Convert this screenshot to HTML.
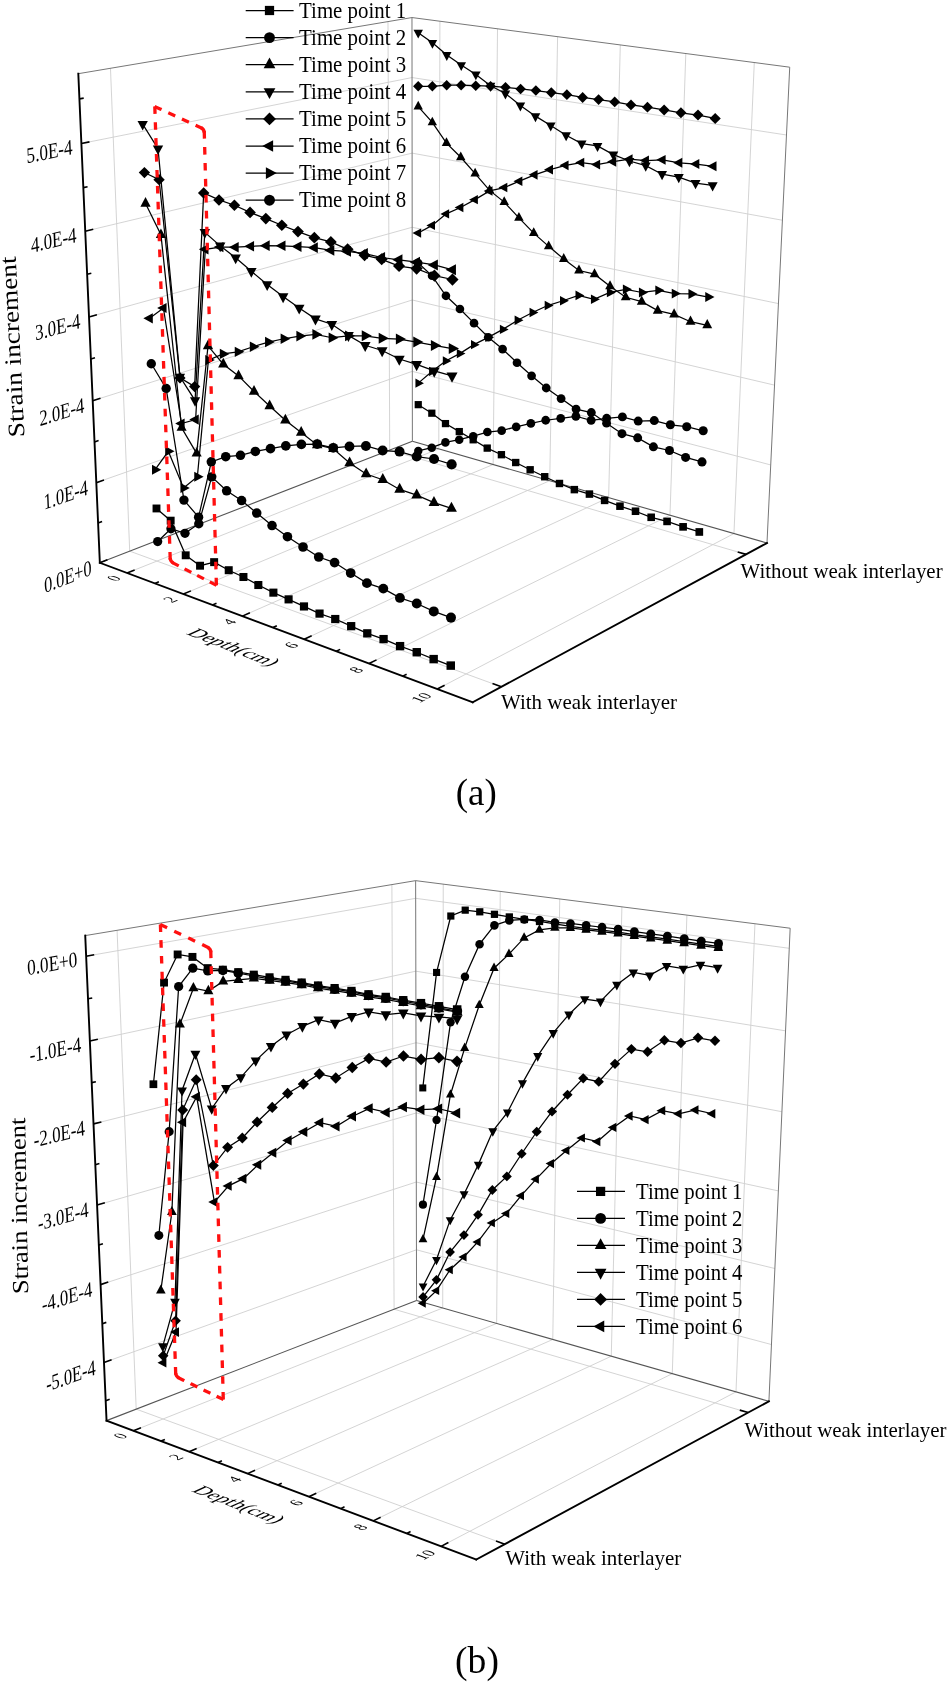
<!DOCTYPE html>
<html><head><meta charset="utf-8"><style>
    body{margin:0;background:#fff}
    svg{display:block;will-change:transform}
    .g{stroke:#cfcfcf;stroke-width:0.9;fill:none}
    .f{stroke:#777;stroke-width:1;fill:none}
    .f2{stroke:#555;stroke-width:1.1;fill:none}
    .ax{stroke:#000;stroke-width:1.9;fill:none;stroke-linecap:square}
    .tk{stroke:#000;stroke-width:1.6;fill:none}
    .sl{stroke:#000;stroke-width:1.25;fill:none}
    .mk{fill:#000}
    .red{stroke:#ff1010;stroke-width:3.3;fill:none;stroke-linecap:square}
    .t{font-family:"Liberation Serif",serif;fill:#000}
    </style></head>
<body><svg width="950" height="1685" viewBox="0 0 950 1685">
<rect width="950" height="1685" fill="#fff"/>
<line x1="96.31" y1="482.63" x2="412.31" y2="371.33" class="g"/>
<line x1="412.31" y1="371.33" x2="770.72" y2="464.93" class="g"/>
<line x1="92.7" y1="400.69" x2="412.25" y2="299.99" class="g"/>
<line x1="412.25" y1="299.99" x2="774.54" y2="385.14" class="g"/>
<line x1="89.01" y1="316.9" x2="412.18" y2="227.28" class="g"/>
<line x1="412.18" y1="227.28" x2="778.43" y2="303.59" class="g"/>
<line x1="85.24" y1="231.19" x2="412.11" y2="153.15" class="g"/>
<line x1="412.11" y1="153.15" x2="782.41" y2="220.24" class="g"/>
<line x1="81.38" y1="143.51" x2="412.04" y2="77.55" class="g"/>
<line x1="412.04" y1="77.55" x2="786.48" y2="135.01" class="g"/>
<line x1="129.71" y1="551.17" x2="110.47" y2="68.28" class="g"/>
<line x1="129.71" y1="551.17" x2="501.38" y2="686.81" class="g"/>
<line x1="389.71" y1="450.13" x2="387.99" y2="21.58" class="g"/>
<line x1="389.71" y1="450.13" x2="746.07" y2="554.36" class="g"/>
<line x1="438.78" y1="448.89" x2="439.91" y2="21.22" class="g"/>
<line x1="127.06" y1="572.97" x2="438.78" y2="448.89" class="g"/>
<line x1="493.16" y1="464.49" x2="497.53" y2="28.79" class="g"/>
<line x1="183.38" y1="594.05" x2="493.16" y2="464.49" class="g"/>
<line x1="549.72" y1="480.71" x2="557.6" y2="36.69" class="g"/>
<line x1="242.36" y1="616.12" x2="549.72" y2="480.71" class="g"/>
<line x1="608.61" y1="497.6" x2="620.3" y2="44.93" class="g"/>
<line x1="304.19" y1="639.26" x2="608.61" y2="497.6" class="g"/>
<line x1="669.97" y1="515.2" x2="685.8" y2="53.54" class="g"/>
<line x1="369.09" y1="663.55" x2="669.97" y2="515.2" class="g"/>
<line x1="733.96" y1="533.56" x2="754.29" y2="62.54" class="g"/>
<line x1="437.29" y1="689.07" x2="733.96" y2="533.56" class="g"/>
<line x1="78.31" y1="73.7" x2="411.98" y2="17.55" class="f"/>
<line x1="411.98" y1="17.55" x2="789.72" y2="67.2" class="f"/>
<line x1="789.72" y1="67.2" x2="766.99" y2="543.03" class="f"/>
<line x1="412.38" y1="441.32" x2="411.98" y2="17.55" class="f"/>
<line x1="99.84" y1="562.78" x2="412.38" y2="441.32" class="f2"/>
<line x1="412.38" y1="441.32" x2="766.99" y2="543.03" class="f2"/>
<line x1="99.84" y1="562.78" x2="78.31" y2="73.7" class="ax"/>
<line x1="99.84" y1="562.78" x2="472.7" y2="702.33" class="ax"/>
<line x1="472.7" y1="702.33" x2="766.99" y2="543.03" class="ax"/>
<line x1="99.84" y1="562.78" x2="107.44" y2="559.83" class="tk"/>
<line x1="98.08" y1="522.93" x2="102.1" y2="521.44" class="tk"/>
<line x1="96.31" y1="482.63" x2="104.01" y2="479.92" class="tk"/>
<line x1="94.51" y1="441.89" x2="98.58" y2="440.53" class="tk"/>
<line x1="92.7" y1="400.69" x2="100.5" y2="398.23" class="tk"/>
<line x1="90.87" y1="359.03" x2="94.98" y2="357.81" class="tk"/>
<line x1="89.01" y1="316.9" x2="96.91" y2="314.71" class="tk"/>
<line x1="87.14" y1="274.29" x2="91.31" y2="273.21" class="tk"/>
<line x1="85.24" y1="231.19" x2="93.24" y2="229.28" class="tk"/>
<line x1="83.32" y1="187.6" x2="87.55" y2="186.68" class="tk"/>
<line x1="81.38" y1="143.51" x2="89.49" y2="141.89" class="tk"/>
<line x1="79.41" y1="98.9" x2="83.7" y2="98.13" class="tk"/>
<line x1="127.06" y1="572.97" x2="134.65" y2="569.94" class="tk"/>
<line x1="154.9" y1="583.39" x2="158.88" y2="581.76" class="tk"/>
<line x1="183.38" y1="594.05" x2="190.95" y2="590.88" class="tk"/>
<line x1="212.52" y1="604.95" x2="216.49" y2="603.25" class="tk"/>
<line x1="242.36" y1="616.12" x2="249.9" y2="612.8" class="tk"/>
<line x1="272.91" y1="627.55" x2="276.85" y2="625.77" class="tk"/>
<line x1="304.19" y1="639.26" x2="311.68" y2="635.78" class="tk"/>
<line x1="336.24" y1="651.26" x2="340.16" y2="649.38" class="tk"/>
<line x1="369.09" y1="663.55" x2="376.52" y2="659.89" class="tk"/>
<line x1="402.76" y1="676.15" x2="406.64" y2="674.18" class="tk"/>
<line x1="437.29" y1="689.07" x2="444.64" y2="685.22" class="tk"/>
<line x1="501.38" y1="686.81" x2="492.49" y2="683.56" class="tk"/>
<line x1="746.07" y1="554.36" x2="737.69" y2="551.91" class="tk"/>
<g class="mk">
<path d="M418.21 86.26 432.37 86.26 446.68 85.19 461.14 85.21 475.77 85.63 490.55 86.23 505.5 87.28 520.6 88.94 535.87 90.51 551.29 92.61 566.89 94.68 582.64 97.49 598.59 99.54 614.7 101.9 630.98 104.9 647.46 107.13 664.1 109.94 680.94 112.76 697.99 115.08 715.19 118.45" class="sl"/>
<path d="M418.21 81.09L423.38 86.26L418.21 91.42L413.05 86.26Z"/>
<path d="M432.37 81.08L437.55 86.26L432.37 91.45L427.18 86.26Z"/>
<path d="M446.68 79.98L451.88 85.19L446.68 90.39L441.47 85.19Z"/>
<path d="M461.14 79.99L466.37 85.21L461.14 90.44L455.92 85.21Z"/>
<path d="M475.77 80.39L481.01 85.63L475.77 90.88L470.52 85.63Z"/>
<path d="M490.55 80.97L495.82 86.23L490.55 91.5L485.29 86.23Z"/>
<path d="M505.5 81.99L510.78 87.28L505.5 92.56L500.21 87.28Z"/>
<path d="M520.6 83.63L525.9 88.94L520.6 94.24L515.29 88.94Z"/>
<path d="M535.87 85.19L541.19 90.51L535.87 95.83L530.54 90.51Z"/>
<path d="M551.29 87.27L556.64 92.61L551.29 97.96L545.95 92.61Z"/>
<path d="M566.89 89.32L572.25 94.68L566.89 100.05L561.52 94.68Z"/>
<path d="M582.64 92.11L588.03 97.49L582.64 102.88L577.26 97.49Z"/>
<path d="M598.59 94.13L603.99 99.54L598.59 104.94L593.18 99.54Z"/>
<path d="M614.7 96.47L620.13 101.9L614.7 107.33L609.27 101.9Z"/>
<path d="M630.98 99.45L636.42 104.9L630.98 110.34L625.53 104.9Z"/>
<path d="M647.46 101.66L652.92 107.13L647.46 112.6L641.99 107.13Z"/>
<path d="M664.1 104.45L669.6 109.94L664.1 115.43L658.61 109.94Z"/>
<path d="M680.94 107.25L686.45 112.76L680.94 118.27L675.43 112.76Z"/>
<path d="M697.99 109.55L703.52 115.08L697.99 120.62L692.45 115.08Z"/>
<path d="M715.19 112.89L720.75 118.45L715.19 124L709.63 118.45Z"/>
<path d="M418.21 32.68 432.44 42.85 446.78 55.01 461.25 65.09 475.85 74.42 490.56 85.82 505.43 93.49 520.38 105.57 535.48 116.15 550.73 125.56 566.11 135.28 581.67 143.56 597.51 145.92 613.36 154.66 629.44 161.02 645.73 165.64 662.07 174.18 678.76 177.14 695.53 183.04 712.62 185.32" class="sl"/>
<path d="M418.21 38.53L422.92 29.75L413.49 29.75Z"/>
<path d="M432.44 48.72L437.17 39.92L427.71 39.92Z"/>
<path d="M446.78 60.89L451.53 52.07L442.04 52.07Z"/>
<path d="M461.25 70.99L466.01 62.14L456.49 62.14Z"/>
<path d="M475.85 80.34L480.62 71.46L471.08 71.46Z"/>
<path d="M490.56 91.75L495.34 82.85L485.77 82.85Z"/>
<path d="M505.43 99.44L510.23 90.51L500.63 90.51Z"/>
<path d="M520.38 111.54L525.2 102.58L515.57 102.58Z"/>
<path d="M535.48 122.14L540.31 113.15L530.65 113.15Z"/>
<path d="M550.73 131.56L555.57 122.55L545.89 122.55Z"/>
<path d="M566.11 141.31L570.97 132.27L561.25 132.27Z"/>
<path d="M581.67 149.61L586.54 140.54L576.79 140.54Z"/>
<path d="M597.51 151.99L602.4 142.88L592.61 142.88Z"/>
<path d="M613.36 160.75L618.27 151.62L608.45 151.62Z"/>
<path d="M629.44 167.13L634.36 157.97L624.51 157.97Z"/>
<path d="M645.73 171.77L650.67 162.57L640.78 162.57Z"/>
<path d="M662.07 180.33L667.03 171.1L657.1 171.1Z"/>
<path d="M678.76 183.32L683.74 174.05L673.77 174.05Z"/>
<path d="M695.53 189.24L700.53 179.94L690.53 179.94Z"/>
<path d="M712.62 191.55L717.64 182.21L707.6 182.21Z"/>
<path d="M418.22 106.65 432.3 122.45 446.47 143.16 460.75 157.24 475.13 173.69 489.59 190.4 504.22 202.1 518.91 217.88 533.72 233.1 548.67 246.35 563.75 259.05 578.98 270.5 594.53 274.19 610.03 286.29 625.7 297.3 641.7 301.63 657.74 310.6 674.1 314.39 690.52 321.7 707.25 325.27" class="sl"/>
<path d="M418.22 100.84L422.9 109.56L413.53 109.56Z"/>
<path d="M432.3 116.63L437 125.36L427.61 125.36Z"/>
<path d="M446.47 137.32L451.18 146.08L441.77 146.08Z"/>
<path d="M460.75 151.39L465.47 160.16L456.04 160.16Z"/>
<path d="M475.13 167.82L479.86 176.62L470.4 176.62Z"/>
<path d="M489.59 184.53L494.33 193.34L484.85 193.34Z"/>
<path d="M504.22 196.21L508.97 205.05L499.46 205.05Z"/>
<path d="M518.91 211.97L523.68 220.84L514.14 220.84Z"/>
<path d="M533.72 227.18L538.49 236.07L528.94 236.07Z"/>
<path d="M548.67 240.41L553.46 249.33L543.88 249.33Z"/>
<path d="M563.75 253.09L568.55 262.03L558.95 262.03Z"/>
<path d="M578.98 264.52L583.8 273.48L574.17 273.48Z"/>
<path d="M594.53 268.19L599.37 277.19L589.69 277.19Z"/>
<path d="M610.03 280.27L614.88 289.29L605.18 289.29Z"/>
<path d="M625.7 291.27L630.56 300.32L620.83 300.32Z"/>
<path d="M641.7 295.57L646.59 304.66L636.82 304.66Z"/>
<path d="M657.74 304.52L662.64 313.63L652.83 313.63Z"/>
<path d="M674.1 308.29L679.02 317.44L669.18 317.44Z"/>
<path d="M690.52 315.58L695.45 324.76L685.58 324.76Z"/>
<path d="M707.25 319.12L712.2 328.34L702.29 328.34Z"/>
<path d="M418.24 233.04 432.13 225.41 446.22 213.89 460.48 207.5 474.94 199.65 489.59 190.9 504.38 187.55 519.39 181.17 534.59 174.86 549.98 169.67 565.54 165.34 581.27 162.62 597.08 164.6 613.18 161.73 629.48 159.25 645.88 160.56 662.52 159.85 679.24 162.82 696.22 164.07 713.35 166.33" class="sl"/>
<path d="M412.49 233.04L421.11 228.41L421.11 237.68Z"/>
<path d="M426.36 225.41L435.02 220.76L435.02 230.06Z"/>
<path d="M440.42 213.89L449.12 209.21L449.12 218.56Z"/>
<path d="M454.66 207.5L463.39 202.8L463.39 212.19Z"/>
<path d="M469.09 199.65L477.86 194.93L477.86 204.36Z"/>
<path d="M483.71 190.9L492.53 186.16L492.53 195.64Z"/>
<path d="M498.48 187.55L507.33 182.79L507.33 192.31Z"/>
<path d="M513.46 181.17L522.36 176.39L522.36 185.95Z"/>
<path d="M528.64 174.86L537.57 170.06L537.57 179.67Z"/>
<path d="M543.99 169.67L552.97 164.85L552.97 174.5Z"/>
<path d="M559.53 165.34L568.54 160.5L568.54 170.19Z"/>
<path d="M575.23 162.62L584.28 157.75L584.28 167.48Z"/>
<path d="M591.02 164.6L600.1 159.71L600.1 169.49Z"/>
<path d="M607.1 161.73L616.23 156.83L616.23 166.64Z"/>
<path d="M623.37 159.25L632.54 154.32L632.54 164.18Z"/>
<path d="M639.74 160.56L648.94 155.62L648.94 165.51Z"/>
<path d="M656.36 159.85L665.6 154.88L665.6 164.82Z"/>
<path d="M673.06 162.82L682.33 157.84L682.33 167.81Z"/>
<path d="M690 164.07L699.32 159.06L699.32 169.08Z"/>
<path d="M707.11 166.33L716.47 161.3L716.47 171.35Z"/>
<path d="M418.26 383.14 431.89 371.41 445.7 360.95 459.69 353.62 473.88 344.64 488.24 337.36 502.8 329.4 517.57 320.32 532.52 312.49 547.66 305.53 562.95 300.75 578.46 295.38 593.95 299.27 609.88 292.46 625.92 289.27 641.97 292.49 658.38 290.37 674.8 293.57 691.52 293.96 708.33 297.05" class="sl"/>
<path d="M423.92 383.14L415.43 378.57L415.43 387.7Z"/>
<path d="M437.58 371.41L429.04 366.83L429.04 376Z"/>
<path d="M451.42 360.95L442.84 356.34L442.84 365.56Z"/>
<path d="M465.44 353.62L456.82 348.99L456.82 358.26Z"/>
<path d="M479.65 344.64L470.99 339.99L470.99 349.3Z"/>
<path d="M494.04 337.36L485.34 332.68L485.34 342.03Z"/>
<path d="M508.63 329.4L499.89 324.71L499.89 334.1Z"/>
<path d="M523.42 320.32L514.64 315.6L514.64 325.04Z"/>
<path d="M538.4 312.49L529.58 307.75L529.58 317.23Z"/>
<path d="M553.57 305.53L544.7 300.77L544.7 310.3Z"/>
<path d="M568.89 300.75L559.99 295.96L559.99 305.53Z"/>
<path d="M584.42 295.38L575.48 290.57L575.48 300.19Z"/>
<path d="M599.93 299.27L590.96 294.44L590.96 304.09Z"/>
<path d="M615.89 292.46L606.87 287.62L606.87 297.31Z"/>
<path d="M631.96 289.27L622.9 284.4L622.9 294.14Z"/>
<path d="M648.04 292.49L638.94 287.6L638.94 297.38Z"/>
<path d="M664.47 290.37L655.33 285.46L655.33 295.28Z"/>
<path d="M680.92 293.57L671.75 288.64L671.75 298.5Z"/>
<path d="M697.66 293.96L688.45 289.01L688.45 298.91Z"/>
<path d="M714.49 297.05L705.25 292.08L705.25 302.02Z"/>
<path d="M418.24 262.94 432.05 275.79 445.93 295.81 459.93 308.98 474.04 323.18 488.24 337.26 502.58 349.07 517.01 362.75 531.57 375.79 546.25 387.99 561.09 398.55 576.05 409.11 591.32 412.53 606.57 423.17 621.96 433.66 637.68 437.84 653.41 446.82 669.48 450.49 685.61 457.42 702 461.91" class="sl"/>
<circle cx="418.24" cy="262.94" r="4.3"/>
<circle cx="432.05" cy="275.79" r="4.31"/>
<circle cx="445.93" cy="295.81" r="4.32"/>
<circle cx="459.93" cy="308.98" r="4.33"/>
<circle cx="474.04" cy="323.18" r="4.34"/>
<circle cx="488.24" cy="337.26" r="4.35"/>
<circle cx="502.58" cy="349.07" r="4.36"/>
<circle cx="517.01" cy="362.75" r="4.37"/>
<circle cx="531.57" cy="375.79" r="4.38"/>
<circle cx="546.25" cy="387.99" r="4.4"/>
<circle cx="561.09" cy="398.55" r="4.41"/>
<circle cx="576.05" cy="409.11" r="4.42"/>
<circle cx="591.32" cy="412.53" r="4.44"/>
<circle cx="606.57" cy="423.17" r="4.45"/>
<circle cx="621.96" cy="433.66" r="4.47"/>
<circle cx="637.68" cy="437.84" r="4.48"/>
<circle cx="653.41" cy="446.82" r="4.5"/>
<circle cx="669.48" cy="450.49" r="4.52"/>
<circle cx="685.61" cy="457.42" r="4.53"/>
<circle cx="702" cy="461.91" r="4.55"/>
<path d="M418.27 450.96 431.76 447.69 445.42 442.38 459.23 439.68 473.21 436.22 487.37 432.05 501.67 430.67 516.17 426.85 530.85 423.44 545.7 420.25 560.71 418.32 575.9 416.27 591.14 420.28 606.69 418.3 622.42 416.88 638.17 421.07 654.24 420.59 670.35 424.76 686.72 426.7 703.19 430.8" class="sl"/>
<circle cx="418.27" cy="450.96" r="4.22"/>
<circle cx="431.76" cy="447.69" r="4.24"/>
<circle cx="445.42" cy="442.38" r="4.26"/>
<circle cx="459.23" cy="439.68" r="4.27"/>
<circle cx="473.21" cy="436.22" r="4.29"/>
<circle cx="487.37" cy="432.05" r="4.31"/>
<circle cx="501.67" cy="430.67" r="4.33"/>
<circle cx="516.17" cy="426.85" r="4.35"/>
<circle cx="530.85" cy="423.44" r="4.37"/>
<circle cx="545.7" cy="420.25" r="4.38"/>
<circle cx="560.71" cy="418.32" r="4.4"/>
<circle cx="575.9" cy="416.27" r="4.42"/>
<circle cx="591.14" cy="420.28" r="4.44"/>
<circle cx="606.69" cy="418.3" r="4.46"/>
<circle cx="622.42" cy="416.88" r="4.48"/>
<circle cx="638.17" cy="421.07" r="4.49"/>
<circle cx="654.24" cy="420.59" r="4.51"/>
<circle cx="670.35" cy="424.76" r="4.53"/>
<circle cx="686.72" cy="426.7" r="4.55"/>
<circle cx="703.19" cy="430.8" r="4.56"/>
<path d="M418.26 404.66 431.82 413.2 445.48 423.59 459.27 431.59 473.19 439.78 487.22 448.11 501.41 454.7 515.71 462.53 530.15 469.79 544.73 476.74 559.46 483.49 574.35 489.62 589.43 494.08 604.61 500.4 619.97 506.18 635.51 511.23 651.17 517.29 667.07 521.41 683.1 526.85 699.31 531.97" class="sl"/>
<rect x="414.66" y="401.06" width="7.2" height="7.2"/>
<rect x="428.2" y="409.59" width="7.22" height="7.22"/>
<rect x="441.86" y="419.97" width="7.24" height="7.24"/>
<rect x="455.64" y="427.96" width="7.27" height="7.27"/>
<rect x="469.54" y="436.14" width="7.29" height="7.29"/>
<rect x="483.57" y="444.45" width="7.31" height="7.31"/>
<rect x="497.74" y="451.03" width="7.34" height="7.34"/>
<rect x="512.03" y="458.85" width="7.36" height="7.36"/>
<rect x="526.46" y="466.09" width="7.38" height="7.38"/>
<rect x="541.03" y="473.03" width="7.41" height="7.41"/>
<rect x="555.75" y="479.77" width="7.43" height="7.43"/>
<rect x="570.62" y="485.89" width="7.46" height="7.46"/>
<rect x="585.68" y="490.34" width="7.49" height="7.49"/>
<rect x="600.86" y="496.65" width="7.51" height="7.51"/>
<rect x="616.2" y="502.41" width="7.54" height="7.54"/>
<rect x="631.72" y="507.45" width="7.57" height="7.57"/>
<rect x="647.38" y="513.5" width="7.59" height="7.59"/>
<rect x="663.26" y="517.59" width="7.62" height="7.62"/>
<rect x="679.27" y="523.03" width="7.65" height="7.65"/>
<rect x="695.47" y="528.13" width="7.68" height="7.68"/>
<path d="M156.49 508.47 170.67 520.66 185.7 555.3 200.05 565.72 214.13 562.15 228.72 570.21 243.43 576.99 258.33 585.02 273.39 592.65 288.59 599.37 303.98 606.44 319.53 613.59 335.25 619.03 351.17 626.16 367.28 633.33 383.57 639.1 400.07 646.13 416.76 652.23 433.65 659.1 450.76 665.59" class="sl"/>
<rect x="152.56" y="504.53" width="7.87" height="7.87"/>
<rect x="166.73" y="516.71" width="7.89" height="7.89"/>
<rect x="181.75" y="551.35" width="7.9" height="7.9"/>
<rect x="196.08" y="561.75" width="7.93" height="7.93"/>
<rect x="210.15" y="558.16" width="7.97" height="7.97"/>
<rect x="224.72" y="566.21" width="8" height="8"/>
<rect x="239.42" y="572.98" width="8.03" height="8.03"/>
<rect x="254.3" y="580.99" width="8.06" height="8.06"/>
<rect x="269.34" y="588.6" width="8.09" height="8.09"/>
<rect x="284.53" y="595.31" width="8.12" height="8.12"/>
<rect x="299.9" y="602.36" width="8.16" height="8.16"/>
<rect x="315.44" y="609.5" width="8.19" height="8.19"/>
<rect x="331.14" y="614.92" width="8.22" height="8.22"/>
<rect x="347.05" y="622.04" width="8.26" height="8.26"/>
<rect x="363.14" y="629.19" width="8.29" height="8.29"/>
<rect x="379.41" y="634.94" width="8.32" height="8.32"/>
<rect x="395.89" y="641.95" width="8.36" height="8.36"/>
<rect x="412.56" y="648.03" width="8.4" height="8.4"/>
<rect x="429.44" y="654.89" width="8.43" height="8.43"/>
<rect x="446.52" y="661.36" width="8.47" height="8.47"/>
<path d="M157.68 541.52 170.95 528.77 185 533.3 198.78 523.72 211.72 476.87 226.63 490.78 241.58 500.59 256.73 513.01 272.03 525.55 287.46 536.69 303.03 547.01 318.75 557.02 334.59 562.6 350.67 573.06 366.92 583.14 383.32 588.61 399.94 597.89 416.74 603.52 433.75 611.39 450.97 617.62" class="sl"/>
<circle cx="157.68" cy="541.52" r="4.62"/>
<circle cx="170.95" cy="528.77" r="4.64"/>
<circle cx="185" cy="533.3" r="4.66"/>
<circle cx="198.78" cy="523.72" r="4.69"/>
<circle cx="211.72" cy="476.87" r="4.73"/>
<circle cx="226.63" cy="490.78" r="4.74"/>
<circle cx="241.58" cy="500.59" r="4.76"/>
<circle cx="256.73" cy="513.01" r="4.78"/>
<circle cx="272.03" cy="525.55" r="4.79"/>
<circle cx="287.46" cy="536.69" r="4.81"/>
<circle cx="303.03" cy="547.01" r="4.83"/>
<circle cx="318.75" cy="557.02" r="4.85"/>
<circle cx="334.59" cy="562.6" r="4.87"/>
<circle cx="350.67" cy="573.06" r="4.88"/>
<circle cx="366.92" cy="583.14" r="4.9"/>
<circle cx="383.32" cy="588.61" r="4.92"/>
<circle cx="399.94" cy="597.89" r="4.94"/>
<circle cx="416.74" cy="603.52" r="4.97"/>
<circle cx="433.75" cy="611.39" r="4.99"/>
<circle cx="450.97" cy="617.62" r="5.01"/>
<path d="M151.29 363.8 166.17 388.5 183.93 500.08 198.58 517.16 211.3 461.86 225.73 456.71 240.48 455.3 255.36 451.46 270.48 448.66 285.81 445.89 301.38 444.42 317.19 444.05 333.25 447.83 349.47 446.45 365.92 445.95 382.63 450.54 399.54 451.6 416.68 456.55 434.05 458.99 451.64 464.44" class="sl"/>
<circle cx="151.29" cy="363.8" r="4.7"/>
<circle cx="166.17" cy="388.5" r="4.71"/>
<circle cx="183.93" cy="500.08" r="4.68"/>
<circle cx="198.58" cy="517.16" r="4.69"/>
<circle cx="211.3" cy="461.86" r="4.74"/>
<circle cx="225.73" cy="456.71" r="4.76"/>
<circle cx="240.48" cy="455.3" r="4.78"/>
<circle cx="255.36" cy="451.46" r="4.81"/>
<circle cx="270.48" cy="448.66" r="4.83"/>
<circle cx="285.81" cy="445.89" r="4.85"/>
<circle cx="301.38" cy="444.42" r="4.88"/>
<circle cx="317.19" cy="444.05" r="4.9"/>
<circle cx="333.25" cy="447.83" r="4.92"/>
<circle cx="349.47" cy="446.45" r="4.94"/>
<circle cx="365.92" cy="445.95" r="4.97"/>
<circle cx="382.63" cy="450.54" r="4.99"/>
<circle cx="399.54" cy="451.6" r="5.01"/>
<circle cx="416.68" cy="456.55" r="5.04"/>
<circle cx="434.05" cy="458.99" r="5.06"/>
<circle cx="451.64" cy="464.44" r="5.08"/>
<path d="M145.53 203.47 160.94 234.78 181.6 427.72 196.65 453.42 208.02 345.95 223.3 364.27 238.55 375.93 254.03 391.45 269.62 406.06 285.35 420.33 301.19 432.56 317.2 444.95 333.26 448.74 349.63 462.99 366.13 474.02 382.78 479.71 399.64 489.44 416.7 495.09 433.96 502.68 451.45 508.38" class="sl"/>
<path d="M145.53 197.12L150.65 206.65L140.41 206.65Z"/>
<path d="M160.94 228.41L166.07 237.96L155.8 237.96Z"/>
<path d="M181.6 421.45L186.66 430.86L176.54 430.86Z"/>
<path d="M196.65 447.13L201.72 456.57L191.58 456.57Z"/>
<path d="M208.02 339.57L213.17 349.14L202.87 349.14Z"/>
<path d="M223.3 357.87L228.47 367.47L218.14 367.47Z"/>
<path d="M238.55 369.51L243.73 379.14L233.37 379.14Z"/>
<path d="M254.03 385.01L259.22 394.67L248.83 394.67Z"/>
<path d="M269.62 399.6L274.83 409.3L264.41 409.3Z"/>
<path d="M285.35 413.85L290.58 423.57L280.12 423.57Z"/>
<path d="M301.19 426.05L306.44 435.81L295.95 435.81Z"/>
<path d="M317.2 438.42L322.47 448.21L311.93 448.21Z"/>
<path d="M333.26 442.18L338.55 452.02L327.97 452.02Z"/>
<path d="M349.63 456.41L354.94 466.28L344.32 466.28Z"/>
<path d="M366.13 467.41L371.46 477.32L360.8 477.32Z"/>
<path d="M382.78 473.07L388.13 483.02L377.43 483.02Z"/>
<path d="M399.64 482.78L405.02 492.77L394.27 492.77Z"/>
<path d="M416.7 488.4L422.09 498.44L411.3 498.44Z"/>
<path d="M433.96 495.96L439.38 506.04L428.55 506.04Z"/>
<path d="M451.45 501.63L456.89 511.75L446.01 511.75Z"/>
<path d="M155.1 469.64 168.31 451.32 183.54 487.95 197.36 476.72 208.42 360.06 223.03 353.91 237.96 351.87 253.03 346.74 268.33 342.03 283.87 338.74 299.65 336.11 315.67 334.41 331.97 337.74 348.42 335.81 365.13 335.76 382.07 338.29 399.24 339.06 416.64 342.06 434.28 345.44 452.15 348.54" class="sl"/>
<path d="M161.3 469.64L152 464.64L152 474.64Z"/>
<path d="M174.55 451.32L165.19 446.29L165.19 456.35Z"/>
<path d="M189.78 487.95L180.42 482.91L180.42 492.98Z"/>
<path d="M203.63 476.72L194.22 471.66L194.22 481.78Z"/>
<path d="M214.79 360.06L205.23 354.92L205.23 365.2Z"/>
<path d="M229.44 353.91L219.83 348.74L219.83 359.08Z"/>
<path d="M244.4 351.87L234.74 346.68L234.74 357.06Z"/>
<path d="M259.5 346.74L249.8 341.52L249.8 351.96Z"/>
<path d="M274.83 342.03L265.08 336.78L265.08 347.27Z"/>
<path d="M290.41 338.74L280.61 333.47L280.61 344.01Z"/>
<path d="M306.22 336.11L296.37 330.81L296.37 341.41Z"/>
<path d="M322.27 334.41L312.37 329.09L312.37 339.73Z"/>
<path d="M338.59 337.74L328.65 332.39L328.65 343.08Z"/>
<path d="M355.08 335.81L345.09 330.43L345.09 341.18Z"/>
<path d="M371.82 335.76L361.78 330.36L361.78 341.15Z"/>
<path d="M388.8 338.29L378.71 332.87L378.71 343.72Z"/>
<path d="M406 339.06L395.86 333.61L395.86 344.51Z"/>
<path d="M423.43 342.06L413.25 336.59L413.25 347.53Z"/>
<path d="M441.1 345.44L430.87 339.95L430.87 350.94Z"/>
<path d="M459 348.54L448.72 343.01L448.72 354.06Z"/>
<path d="M149.66 318.31 163.43 308.01 181.47 423.54 195.63 419.61 205.29 249.37 220.22 247.11 235.42 247.22 250.79 246.27 266.38 245.65 282.19 245.79 298.22 246.62 314.47 247.64 330.95 250.35 347.62 251.43 364.53 253.53 381.67 257.5 399.03 259.82 416.61 262.22 434.44 264.94 452.49 269.78" class="sl"/>
<path d="M143.37 318.31L152.8 313.24L152.8 323.38Z"/>
<path d="M157.11 308.01L166.59 302.91L166.59 313.11Z"/>
<path d="M175.19 423.54L184.61 418.48L184.61 428.61Z"/>
<path d="M189.32 419.61L198.78 414.52L198.78 424.7Z"/>
<path d="M198.85 249.37L208.51 244.17L208.51 254.56Z"/>
<path d="M213.75 247.11L223.46 241.89L223.46 252.33Z"/>
<path d="M228.92 247.22L238.67 241.98L238.67 252.46Z"/>
<path d="M244.26 246.27L254.06 241L254.06 251.53Z"/>
<path d="M259.82 245.65L269.66 240.36L269.66 250.95Z"/>
<path d="M275.6 245.79L285.49 240.47L285.49 251.1Z"/>
<path d="M291.6 246.62L301.53 241.28L301.53 251.96Z"/>
<path d="M307.81 247.64L317.79 242.27L317.79 253Z"/>
<path d="M324.26 250.35L334.29 244.96L334.29 255.74Z"/>
<path d="M340.91 251.43L350.98 246.01L350.98 256.84Z"/>
<path d="M357.79 253.53L367.9 248.09L367.9 258.97Z"/>
<path d="M374.9 257.5L385.06 252.04L385.06 262.97Z"/>
<path d="M392.22 259.82L402.43 254.33L402.43 265.31Z"/>
<path d="M409.78 262.22L420.03 256.7L420.03 267.73Z"/>
<path d="M427.57 264.94L437.87 259.4L437.87 270.48Z"/>
<path d="M445.59 269.78L455.94 264.21L455.94 275.34Z"/>
<path d="M142.68 124.13 158 148.66 179.97 376.88 195.05 400.44 204.81 232.32 220.19 245.86 235.68 257.82 251.35 271.25 267.16 284.47 283.11 296.58 299.2 307.98 315.45 318.81 331.81 324.25 348.42 335.4 365.19 345.27 382.13 350.51 399.29 359 416.65 364.42 434.23 370.94 452.03 375.81" class="sl"/>
<path d="M142.68 130.53L147.84 120.93L137.52 120.93Z"/>
<path d="M158 155.08L163.17 145.45L152.83 145.45Z"/>
<path d="M179.97 383.18L185.05 373.72L174.88 373.72Z"/>
<path d="M195.05 406.76L200.15 397.28L189.95 397.28Z"/>
<path d="M204.81 238.77L210.01 229.09L199.6 229.09Z"/>
<path d="M220.19 252.33L225.41 242.62L214.97 242.62Z"/>
<path d="M235.68 264.32L240.92 254.58L230.44 254.58Z"/>
<path d="M251.35 277.76L256.61 267.99L246.1 267.99Z"/>
<path d="M267.16 291.01L272.44 281.2L261.89 281.2Z"/>
<path d="M283.11 303.14L288.4 293.3L277.82 293.3Z"/>
<path d="M299.2 314.56L304.51 304.68L293.89 304.68Z"/>
<path d="M315.45 325.42L320.78 315.51L310.12 315.51Z"/>
<path d="M331.81 330.89L337.16 320.93L326.46 320.93Z"/>
<path d="M348.42 342.07L353.79 332.07L343.05 332.07Z"/>
<path d="M365.19 351.96L370.59 341.93L359.8 341.93Z"/>
<path d="M382.13 357.22L387.55 347.15L376.72 347.15Z"/>
<path d="M399.29 365.74L404.73 355.63L393.85 355.63Z"/>
<path d="M416.65 371.19L422.11 361.03L411.19 361.03Z"/>
<path d="M434.23 377.74L439.71 367.54L428.74 367.54Z"/>
<path d="M452.03 382.64L457.54 372.39L446.52 372.39Z"/>
<path d="M144.42 172.55 159.06 179.69 180 377.88 194.63 386.62 203.69 192.89 218.98 199.93 234.4 205.27 250.04 212.4 265.84 218.62 281.82 225.24 297.98 231.62 314.33 237.71 330.85 241.93 347.6 249.32 364.54 255.19 381.68 259.34 399.04 266.05 416.62 268.58 434.42 275.71 452.45 279.51" class="sl"/>
<path d="M144.42 166.9L150.07 172.55L144.42 178.21L138.77 172.55Z"/>
<path d="M159.06 174.02L164.73 179.69L159.06 185.37L153.38 179.69Z"/>
<path d="M180 372.29L185.59 377.88L180 383.48L174.4 377.88Z"/>
<path d="M194.63 381.01L200.25 386.62L194.63 392.24L189.02 386.62Z"/>
<path d="M203.69 187.15L209.43 192.89L203.69 198.64L197.95 192.89Z"/>
<path d="M218.98 194.16L224.75 199.93L218.98 205.69L213.22 199.93Z"/>
<path d="M234.4 199.48L240.19 205.27L234.4 211.06L228.61 205.27Z"/>
<path d="M250.04 206.59L255.85 212.4L250.04 218.21L244.23 212.4Z"/>
<path d="M265.84 212.79L271.67 218.62L265.84 224.46L260 218.62Z"/>
<path d="M281.82 219.38L287.68 225.24L281.82 231.1L275.96 225.24Z"/>
<path d="M297.98 225.74L303.86 231.62L297.98 237.5L292.1 231.62Z"/>
<path d="M314.33 231.8L320.24 237.71L314.33 243.62L308.42 237.71Z"/>
<path d="M330.85 236L336.78 241.93L330.85 247.87L324.91 241.93Z"/>
<path d="M347.6 243.37L353.56 249.32L347.6 255.28L341.65 249.32Z"/>
<path d="M364.54 249.21L370.52 255.19L364.54 261.17L358.56 255.19Z"/>
<path d="M381.68 253.33L387.69 259.34L381.68 265.35L375.67 259.34Z"/>
<path d="M399.04 260.02L405.08 266.05L399.04 272.09L393.01 266.05Z"/>
<path d="M416.62 262.52L422.68 268.58L416.62 274.64L410.55 268.58Z"/>
<path d="M434.42 269.62L440.5 275.71L434.42 281.79L428.33 275.71Z"/>
<path d="M452.45 273.4L458.57 279.51L452.45 285.63L446.33 279.51Z"/>
</g>
<path d="M156.16 107.13L201.02 127.74" class="red" stroke-dasharray="4.30 10.72"/>
<path d="M204.29 132.7L216.36 583.8" class="red" stroke-dasharray="4.30 11.66"/>
<path d="M215.07 584.61L173.41 563.11" class="red" stroke-dasharray="4.30 9.89"/>
<path d="M170.18 558L154.85 108" class="red" stroke-dasharray="4.30 11.63"/>
<path d="M201.02 127.74Q204.2 129.2 204.29 132.7" class="red" style="stroke-linecap:butt"/>
<path d="M173.41 563.11Q170.3 561.5 170.18 558" class="red" style="stroke-linecap:butt"/>
<g class="mk">
<line x1="245.7" y1="10.5" x2="293.6" y2="10.5" class="sl"/>
<rect x="264.88" y="5.88" width="9.24" height="9.24"/>
<line x1="245.7" y1="37.6" x2="293.6" y2="37.6" class="sl"/>
<circle cx="269.5" cy="37.6" r="5.44"/>
<line x1="245.7" y1="64.7" x2="293.6" y2="64.7" class="sl"/>
<path d="M269.5 57.45L275.35 68.32L263.65 68.32Z"/>
<line x1="245.7" y1="91.8" x2="293.6" y2="91.8" class="sl"/>
<path d="M269.5 99.05L275.35 88.18L263.65 88.18Z"/>
<line x1="245.7" y1="118.9" x2="293.6" y2="118.9" class="sl"/>
<path d="M269.5 112.47L275.93 118.9L269.5 125.33L263.07 118.9Z"/>
<line x1="245.7" y1="146" x2="293.6" y2="146" class="sl"/>
<path d="M262.25 146L273.12 140.15L273.12 151.85Z"/>
<line x1="245.7" y1="173.1" x2="293.6" y2="173.1" class="sl"/>
<path d="M276.75 173.1L265.88 167.25L265.88 178.95Z"/>
<line x1="245.7" y1="200.2" x2="293.6" y2="200.2" class="sl"/>
<circle cx="269.5" cy="200.2" r="5.44"/>
</g>
<text x="299.1" y="17.5" font-size="22.4" textLength="107" lengthAdjust="spacingAndGlyphs" class="t">Time point 1</text>
<text x="299.1" y="44.6" font-size="22.4" textLength="107" lengthAdjust="spacingAndGlyphs" class="t">Time point 2</text>
<text x="299.1" y="71.7" font-size="22.4" textLength="107" lengthAdjust="spacingAndGlyphs" class="t">Time point 3</text>
<text x="299.1" y="98.8" font-size="22.4" textLength="107" lengthAdjust="spacingAndGlyphs" class="t">Time point 4</text>
<text x="299.1" y="125.9" font-size="22.4" textLength="107" lengthAdjust="spacingAndGlyphs" class="t">Time point 5</text>
<text x="299.1" y="153" font-size="22.4" textLength="107" lengthAdjust="spacingAndGlyphs" class="t">Time point 6</text>
<text x="299.1" y="180.1" font-size="22.4" textLength="107" lengthAdjust="spacingAndGlyphs" class="t">Time point 7</text>
<text x="299.1" y="207.2" font-size="22.4" textLength="107" lengthAdjust="spacingAndGlyphs" class="t">Time point 8</text>
<text transform="matrix(0.8109 -0.3151 0.0496 1.0989 91.81 574.70)" font-size="20" text-anchor="end" class="t">0.0E+0</text>
<text transform="matrix(0.8206 -0.2890 0.0496 1.0989 88.18 494.29)" font-size="20" text-anchor="end" class="t">1.0E-4</text>
<text transform="matrix(0.8298 -0.2615 0.0496 1.0989 84.47 412.08)" font-size="20" text-anchor="end" class="t">2.0E-4</text>
<text transform="matrix(0.8384 -0.2325 0.0496 1.0989 80.68 328.01)" font-size="20" text-anchor="end" class="t">3.0E-4</text>
<text transform="matrix(0.8462 -0.2020 0.0496 1.0989 76.79 242.01)" font-size="20" text-anchor="end" class="t">4.0E-4</text>
<text transform="matrix(0.8532 -0.1702 0.0496 1.0989 72.82 154.02)" font-size="20" text-anchor="end" class="t">5.0E-4</text>
<text transform="translate(24.4 437) rotate(-92.75) scale(1.0 0.87)" font-size="27.1" textLength="181" lengthAdjust="spacingAndGlyphs" class="t">Strain increment</text>
<text x="501" y="709" font-size="21" textLength="176" lengthAdjust="spacingAndGlyphs" class="t">With weak interlayer</text>
<text x="740.6" y="578" font-size="21" textLength="202" lengthAdjust="spacingAndGlyphs" class="t">Without weak interlayer</text>
<text transform="matrix(0.8827 -0.3513 0.9356 0.3530 122.41 578.76)" font-size="16" text-anchor="end" class="t">0</text>
<text transform="matrix(0.8764 -0.3665 0.9356 0.3530 178.76 600.03)" font-size="16" text-anchor="end" class="t">2</text>
<text transform="matrix(0.8694 -0.3830 0.9356 0.3530 237.79 622.30)" font-size="16" text-anchor="end" class="t">4</text>
<text transform="matrix(0.8613 -0.4008 0.9356 0.3530 299.68 645.65)" font-size="16" text-anchor="end" class="t">6</text>
<text transform="matrix(0.8521 -0.4201 0.9356 0.3530 364.65 670.17)" font-size="16" text-anchor="end" class="t">8</text>
<text transform="matrix(0.8414 -0.4411 0.9356 0.3530 432.94 695.94)" font-size="16" text-anchor="end" class="t">10</text>
<text transform="matrix(0.9324 0.3615 -0.9107 0.4131 227.67 650.12)" font-size="21" text-anchor="middle" class="t">Depth(cm)</text>
<text x="455.8" y="805.2" font-size="38" textLength="41" lengthAdjust="spacingAndGlyphs" class="t">(a)</text>
<line x1="86.14" y1="956.21" x2="415.67" y2="898.34" class="g"/>
<line x1="415.67" y1="898.34" x2="789.26" y2="948.29" class="g"/>
<line x1="89.86" y1="1040.95" x2="415.83" y2="971.2" class="g"/>
<line x1="415.83" y1="971.2" x2="785.55" y2="1030.85" class="g"/>
<line x1="93.51" y1="1123.9" x2="415.99" y2="1042.74" class="g"/>
<line x1="415.99" y1="1042.74" x2="781.92" y2="1111.7" class="g"/>
<line x1="97.07" y1="1205.1" x2="416.15" y2="1113" class="g"/>
<line x1="416.15" y1="1113" x2="778.36" y2="1190.9" class="g"/>
<line x1="100.57" y1="1284.62" x2="416.31" y2="1182" class="g"/>
<line x1="416.31" y1="1182" x2="774.88" y2="1268.5" class="g"/>
<line x1="103.99" y1="1362.5" x2="416.46" y2="1249.79" class="g"/>
<line x1="416.46" y1="1249.79" x2="771.46" y2="1344.54" class="g"/>
<line x1="136.2" y1="1409.14" x2="117.09" y2="930.3" class="g"/>
<line x1="136.2" y1="1409.14" x2="504.83" y2="1544.15" class="g"/>
<line x1="394.1" y1="1309.22" x2="391.88" y2="884.6" class="g"/>
<line x1="394.1" y1="1309.22" x2="748.13" y2="1412.56" class="g"/>
<line x1="442.73" y1="1307.99" x2="443.24" y2="884.16" class="g"/>
<line x1="133.44" y1="1430.73" x2="442.73" y2="1307.99" class="g"/>
<line x1="496.64" y1="1323.42" x2="500.25" y2="891.4" class="g"/>
<line x1="189.14" y1="1451.67" x2="496.64" y2="1323.42" class="g"/>
<line x1="552.77" y1="1339.48" x2="559.74" y2="898.95" class="g"/>
<line x1="247.54" y1="1473.62" x2="552.77" y2="1339.48" class="g"/>
<line x1="611.27" y1="1356.22" x2="621.9" y2="906.85" class="g"/>
<line x1="308.83" y1="1496.65" x2="611.27" y2="1356.22" class="g"/>
<line x1="672.29" y1="1373.68" x2="686.9" y2="915.1" class="g"/>
<line x1="373.25" y1="1520.86" x2="672.29" y2="1373.68" class="g"/>
<line x1="735.99" y1="1391.9" x2="754.94" y2="923.74" class="g"/>
<line x1="441.04" y1="1546.34" x2="735.99" y2="1391.9" class="g"/>
<line x1="85.23" y1="935.6" x2="415.63" y2="880.65" class="f"/>
<line x1="415.63" y1="880.65" x2="790.16" y2="928.22" class="f"/>
<line x1="790.16" y1="928.22" x2="768.91" y2="1401.32" class="f"/>
<line x1="416.57" y1="1300.51" x2="415.63" y2="880.65" class="f"/>
<line x1="106.55" y1="1420.63" x2="416.57" y2="1300.51" class="f2"/>
<line x1="416.57" y1="1300.51" x2="768.91" y2="1401.32" class="f2"/>
<line x1="106.55" y1="1420.63" x2="85.23" y2="935.6" class="ax"/>
<line x1="106.55" y1="1420.63" x2="476.28" y2="1559.58" class="ax"/>
<line x1="476.28" y1="1559.58" x2="768.91" y2="1401.32" class="ax"/>
<line x1="86.14" y1="956.21" x2="94.23" y2="954.79" class="tk"/>
<line x1="88.01" y1="998.81" x2="92.23" y2="997.99" class="tk"/>
<line x1="89.86" y1="1040.95" x2="97.85" y2="1039.24" class="tk"/>
<line x1="91.69" y1="1082.65" x2="95.86" y2="1081.68" class="tk"/>
<line x1="93.51" y1="1123.9" x2="101.4" y2="1121.91" class="tk"/>
<line x1="95.3" y1="1164.71" x2="99.42" y2="1163.6" class="tk"/>
<line x1="97.07" y1="1205.1" x2="104.87" y2="1202.85" class="tk"/>
<line x1="98.83" y1="1245.06" x2="102.9" y2="1243.82" class="tk"/>
<line x1="100.57" y1="1284.62" x2="108.27" y2="1282.11" class="tk"/>
<line x1="102.29" y1="1323.76" x2="106.31" y2="1322.38" class="tk"/>
<line x1="103.99" y1="1362.5" x2="111.61" y2="1359.75" class="tk"/>
<line x1="105.68" y1="1400.84" x2="109.65" y2="1399.34" class="tk"/>
<line x1="133.44" y1="1430.73" x2="140.98" y2="1427.74" class="tk"/>
<line x1="160.97" y1="1441.08" x2="164.92" y2="1439.47" class="tk"/>
<line x1="189.14" y1="1451.67" x2="196.66" y2="1448.53" class="tk"/>
<line x1="217.99" y1="1462.51" x2="221.93" y2="1460.82" class="tk"/>
<line x1="247.54" y1="1473.62" x2="255.03" y2="1470.32" class="tk"/>
<line x1="277.81" y1="1484.99" x2="281.73" y2="1483.22" class="tk"/>
<line x1="308.83" y1="1496.65" x2="316.28" y2="1493.19" class="tk"/>
<line x1="340.64" y1="1508.61" x2="344.54" y2="1506.75" class="tk"/>
<line x1="373.25" y1="1520.86" x2="380.65" y2="1517.23" class="tk"/>
<line x1="406.71" y1="1533.44" x2="410.57" y2="1531.48" class="tk"/>
<line x1="441.04" y1="1546.34" x2="448.36" y2="1542.51" class="tk"/>
<line x1="504.83" y1="1544.15" x2="495.97" y2="1540.9" class="tk"/>
<line x1="748.13" y1="1412.56" x2="739.78" y2="1410.12" class="tk"/>
<g class="mk">
<path d="M422.78 1087.94 436.58 972.45 450.82 916.03 465.23 910.15 479.77 911.81 494.46 914.31 509.32 916.96 524.34 919.46 539.52 921.46 554.87 923.98 570.39 926.49 586.1 928.45 601.99 930.24 618.05 932.11 634.29 934.63 650.72 936.96 667.34 939.16 684.15 941.71 701.16 944.19 718.37 946.44" class="sl"/>
<rect x="419.28" y="1084.43" width="7.01" height="7.01"/>
<rect x="433.03" y="968.9" width="7.11" height="7.11"/>
<rect x="447.24" y="912.45" width="7.17" height="7.17"/>
<rect x="461.62" y="906.55" width="7.2" height="7.2"/>
<rect x="476.15" y="908.2" width="7.23" height="7.23"/>
<rect x="490.84" y="910.68" width="7.26" height="7.26"/>
<rect x="505.68" y="913.32" width="7.29" height="7.29"/>
<rect x="520.68" y="915.81" width="7.31" height="7.31"/>
<rect x="535.85" y="917.79" width="7.34" height="7.34"/>
<rect x="551.19" y="920.3" width="7.37" height="7.37"/>
<rect x="566.69" y="922.79" width="7.4" height="7.4"/>
<rect x="582.38" y="924.73" width="7.43" height="7.43"/>
<rect x="598.26" y="926.51" width="7.46" height="7.46"/>
<rect x="614.31" y="928.37" width="7.49" height="7.49"/>
<rect x="630.53" y="930.87" width="7.52" height="7.52"/>
<rect x="646.95" y="933.19" width="7.55" height="7.55"/>
<rect x="663.55" y="935.38" width="7.58" height="7.58"/>
<rect x="680.35" y="937.9" width="7.61" height="7.61"/>
<rect x="697.34" y="940.37" width="7.64" height="7.64"/>
<rect x="714.53" y="942.61" width="7.67" height="7.67"/>
<path d="M422.95 1204.66 436.53 1119.98 450.59 1022.23 464.96 976.74 479.58 944.15 494.38 925.38 509.29 920.47 524.34 919.46 539.54 919.97 554.9 922.49 570.45 923.49 586.16 925.45 602.05 927.25 618.12 929.12 634.37 931.64 650.8 933.97 667.43 936.18 684.24 938.72 701.26 941.21 718.48 943.46" class="sl"/>
<circle cx="422.95" cy="1204.66" r="4.08"/>
<circle cx="436.53" cy="1119.98" r="4.13"/>
<circle cx="450.59" cy="1022.23" r="4.18"/>
<circle cx="464.96" cy="976.74" r="4.22"/>
<circle cx="479.58" cy="944.15" r="4.24"/>
<circle cx="494.38" cy="925.38" r="4.27"/>
<circle cx="509.29" cy="920.47" r="4.29"/>
<circle cx="524.34" cy="919.46" r="4.3"/>
<circle cx="539.54" cy="919.97" r="4.32"/>
<circle cx="554.9" cy="922.49" r="4.34"/>
<circle cx="570.45" cy="923.49" r="4.36"/>
<circle cx="586.16" cy="925.45" r="4.37"/>
<circle cx="602.05" cy="927.25" r="4.39"/>
<circle cx="618.12" cy="929.12" r="4.41"/>
<circle cx="634.37" cy="931.64" r="4.43"/>
<circle cx="650.8" cy="933.97" r="4.44"/>
<circle cx="667.43" cy="936.18" r="4.46"/>
<circle cx="684.24" cy="938.72" r="4.48"/>
<circle cx="701.26" cy="941.21" r="4.5"/>
<circle cx="718.48" cy="943.46" r="4.52"/>
<path d="M423 1239.48 436.51 1177.21 450.44 1094.71 464.68 1048.13 479.23 1005.29 494.05 968.23 508.96 954.11 524.12 937.93 539.41 929.95 554.82 927.77 570.37 927.98 586.07 929.94 601.95 931.74 618.02 933.61 634.25 936.13 650.68 938.46 667.3 940.66 684.1 943.2 701.1 945.69 718.32 947.93" class="sl"/>
<path d="M423 1234.05L427.37 1242.19L418.62 1242.19Z"/>
<path d="M436.51 1171.73L440.93 1179.95L432.09 1179.95Z"/>
<path d="M450.44 1089.17L454.91 1097.48L445.97 1097.48Z"/>
<path d="M464.68 1042.54L469.18 1050.92L460.17 1050.92Z"/>
<path d="M479.23 999.66L483.77 1008.1L474.69 1008.1Z"/>
<path d="M494.05 962.56L498.62 971.07L489.48 971.07Z"/>
<path d="M508.96 948.41L513.56 956.95L504.37 956.95Z"/>
<path d="M524.12 932.2L528.75 940.8L519.5 940.8Z"/>
<path d="M539.41 924.19L544.05 932.82L534.77 932.82Z"/>
<path d="M554.82 921.99L559.48 930.67L550.15 930.67Z"/>
<path d="M570.37 922.18L575.05 930.88L565.69 930.88Z"/>
<path d="M586.07 924.11L590.77 932.86L581.37 932.86Z"/>
<path d="M601.95 925.89L606.67 934.67L597.23 934.67Z"/>
<path d="M618.02 927.73L622.76 936.54L613.28 936.54Z"/>
<path d="M634.25 930.23L639.01 939.07L629.5 939.07Z"/>
<path d="M650.68 932.53L655.45 941.42L645.9 941.42Z"/>
<path d="M667.3 934.71L672.09 943.63L662.5 943.63Z"/>
<path d="M684.1 937.23L688.92 946.19L679.29 946.19Z"/>
<path d="M701.1 939.69L705.94 948.68L696.27 948.68Z"/>
<path d="M718.32 941.91L723.17 950.94L713.46 950.94Z"/>
<path d="M423.06 1286.2 436.48 1259.73 450.17 1219.89 464.1 1194.07 478.3 1164.62 492.81 1131.07 507.46 1112.43 522.47 1083.09 537.73 1055.94 553.21 1032.95 568.88 1014.48 584.74 999.04 600.48 1001.41 616.83 984.7 633.33 972.45 649.67 975.4 666.56 965.87 683.3 968.61 700.46 964.84 717.6 967.74" class="sl"/>
<path d="M423.06 1291.6L427.42 1283.5L418.71 1283.5Z"/>
<path d="M436.48 1265.16L440.86 1257.01L432.09 1257.01Z"/>
<path d="M450.17 1225.37L454.59 1217.15L445.75 1217.15Z"/>
<path d="M464.1 1199.58L468.54 1191.32L459.65 1191.32Z"/>
<path d="M478.3 1170.17L482.78 1161.85L473.83 1161.85Z"/>
<path d="M492.81 1136.65L497.31 1128.27L488.3 1128.27Z"/>
<path d="M507.46 1118.05L511.99 1109.62L502.93 1109.62Z"/>
<path d="M522.47 1088.75L527.03 1080.26L517.91 1080.26Z"/>
<path d="M537.73 1061.64L542.32 1053.1L533.14 1053.1Z"/>
<path d="M553.21 1038.68L557.83 1030.09L548.59 1030.09Z"/>
<path d="M568.88 1020.24L573.52 1011.6L564.23 1011.6Z"/>
<path d="M584.74 1004.83L589.41 996.14L580.07 996.14Z"/>
<path d="M600.48 1007.23L605.17 998.5L595.79 998.5Z"/>
<path d="M616.83 990.55L621.55 981.78L612.11 981.78Z"/>
<path d="M633.33 978.33L638.08 969.51L628.59 969.51Z"/>
<path d="M649.67 981.3L654.43 972.45L644.91 972.45Z"/>
<path d="M666.56 971.8L671.34 962.9L661.77 962.9Z"/>
<path d="M683.3 974.57L688.1 965.64L678.49 965.64Z"/>
<path d="M700.46 970.82L705.28 961.84L695.63 961.84Z"/>
<path d="M717.6 973.75L722.45 964.74L712.76 964.74Z"/>
<path d="M423.08 1296.91 436.47 1279.85 450.1 1252.08 463.94 1235.04 478.01 1214.8 492.36 1190.01 506.85 1176.41 521.66 1153.74 536.72 1131.75 552.01 1111.46 567.49 1094.8 583.22 1078.32 598.77 1081.69 614.99 1063.82 631.4 1049.07 647.57 1051.81 664.36 1040.33 680.94 1043.09 697.99 1037.8 714.98 1040.81" class="sl"/>
<path d="M423.08 1292.12L427.86 1296.91L423.08 1301.69L418.29 1296.91Z"/>
<path d="M436.47 1275.03L441.28 1279.85L436.47 1284.66L431.66 1279.85Z"/>
<path d="M450.1 1247.23L454.94 1252.08L450.1 1256.92L445.25 1252.08Z"/>
<path d="M463.94 1230.17L468.81 1235.04L463.94 1239.91L459.07 1235.04Z"/>
<path d="M478.01 1209.9L482.91 1214.8L478.01 1219.7L473.11 1214.8Z"/>
<path d="M492.36 1185.08L497.29 1190.01L492.36 1194.94L487.43 1190.01Z"/>
<path d="M506.85 1171.46L511.8 1176.41L506.85 1181.37L501.89 1176.41Z"/>
<path d="M521.66 1148.75L526.65 1153.74L521.66 1158.72L516.68 1153.74Z"/>
<path d="M536.72 1126.73L541.74 1131.75L536.72 1136.76L531.7 1131.75Z"/>
<path d="M552.01 1106.42L557.06 1111.46L552.01 1116.51L546.97 1111.46Z"/>
<path d="M567.49 1089.72L572.57 1094.8L567.49 1099.87L562.42 1094.8Z"/>
<path d="M583.22 1073.22L588.32 1078.32L583.22 1083.43L578.12 1078.32Z"/>
<path d="M598.77 1076.57L603.89 1081.69L598.77 1086.82L593.65 1081.69Z"/>
<path d="M614.99 1058.66L620.14 1063.82L614.99 1068.97L609.84 1063.82Z"/>
<path d="M631.4 1043.89L636.58 1049.07L631.4 1054.25L626.21 1049.07Z"/>
<path d="M647.57 1046.61L652.78 1051.81L647.57 1057.01L642.37 1051.81Z"/>
<path d="M664.36 1035.1L669.59 1040.33L664.36 1045.56L659.13 1040.33Z"/>
<path d="M680.94 1037.84L686.19 1043.09L680.94 1048.34L675.69 1043.09Z"/>
<path d="M697.99 1032.52L703.27 1037.8L697.99 1043.07L692.72 1037.8Z"/>
<path d="M714.98 1035.52L720.27 1040.81L714.98 1046.11L709.68 1040.81Z"/>
<path d="M423.09 1303.31 436.47 1290.63 450.06 1269.77 463.85 1257.04 477.85 1241.97 492.1 1222.88 506.49 1213.62 521.18 1195.66 536.09 1179.16 551.22 1163.57 566.53 1150.52 582.07 1138 597.5 1141.52 613.51 1127.46 629.7 1115.96 645.72 1119.66 662.29 1110.63 678.71 1113.76 695.56 1109.95 712.35 1113.75" class="sl"/>
<path d="M417.69 1303.31L425.78 1298.96L425.78 1307.66Z"/>
<path d="M431.05 1290.63L439.18 1286.26L439.18 1295Z"/>
<path d="M444.61 1269.77L452.79 1265.37L452.79 1274.17Z"/>
<path d="M458.37 1257.04L466.59 1252.62L466.59 1261.46Z"/>
<path d="M472.35 1241.97L480.61 1237.52L480.61 1246.41Z"/>
<path d="M486.56 1222.88L494.88 1218.41L494.88 1227.34Z"/>
<path d="M500.93 1213.62L509.28 1209.13L509.28 1218.11Z"/>
<path d="M515.58 1195.66L523.98 1191.15L523.98 1200.18Z"/>
<path d="M530.46 1179.16L538.9 1174.62L538.9 1183.7Z"/>
<path d="M545.55 1163.57L554.05 1159L554.05 1168.14Z"/>
<path d="M560.84 1150.52L569.38 1145.93L569.38 1155.11Z"/>
<path d="M576.35 1138L584.93 1133.39L584.93 1142.61Z"/>
<path d="M591.76 1141.52L600.37 1136.89L600.37 1146.15Z"/>
<path d="M607.74 1127.46L616.4 1122.81L616.4 1132.12Z"/>
<path d="M623.9 1115.96L632.61 1111.28L632.61 1120.64Z"/>
<path d="M639.89 1119.66L648.63 1114.96L648.63 1124.36Z"/>
<path d="M656.43 1110.63L665.22 1105.91L665.22 1115.36Z"/>
<path d="M672.83 1113.76L681.65 1109.02L681.65 1118.5Z"/>
<path d="M689.65 1109.95L698.51 1105.19L698.51 1114.71Z"/>
<path d="M706.42 1113.75L715.32 1108.97L715.32 1118.53Z"/>
<path d="M153.39 1084.22 164.05 982.6 177.64 954.47 192.45 956.91 207.7 968.15 222.85 969.7 238.21 972.16 253.77 974.67 269.53 977.32 285.49 979.86 301.66 982.56 318.04 985.51 334.63 988.12 351.44 990.96 368.48 994.33 385.74 996.95 403.23 1000.24 420.96 1003.14 438.94 1006.29 457.15 1009.53" class="sl"/>
<rect x="149.52" y="1080.35" width="7.74" height="7.74"/>
<rect x="160.13" y="978.68" width="7.84" height="7.84"/>
<rect x="173.69" y="950.52" width="7.9" height="7.9"/>
<rect x="188.49" y="952.94" width="7.93" height="7.93"/>
<rect x="203.72" y="964.17" width="7.96" height="7.96"/>
<rect x="218.85" y="965.71" width="8" height="8"/>
<rect x="234.2" y="968.15" width="8.03" height="8.03"/>
<rect x="249.74" y="970.64" width="8.07" height="8.07"/>
<rect x="265.48" y="973.27" width="8.1" height="8.1"/>
<rect x="281.42" y="975.79" width="8.14" height="8.14"/>
<rect x="297.57" y="978.47" width="8.18" height="8.18"/>
<rect x="313.93" y="981.4" width="8.21" height="8.21"/>
<rect x="330.5" y="983.99" width="8.25" height="8.25"/>
<rect x="347.3" y="986.81" width="8.29" height="8.29"/>
<rect x="364.32" y="990.17" width="8.33" height="8.33"/>
<rect x="381.56" y="992.77" width="8.37" height="8.37"/>
<rect x="399.03" y="996.04" width="8.4" height="8.4"/>
<rect x="416.74" y="998.92" width="8.44" height="8.44"/>
<rect x="434.69" y="1002.05" width="8.48" height="8.48"/>
<rect x="452.89" y="1005.26" width="8.53" height="8.53"/>
<path d="M158.84 1235.44 169.15 1131.64 178.67 986.52 192.8 968.16 207.78 970.93 222.87 970.42 238.24 973.17 253.8 976 269.56 978.76 285.51 980.9 301.67 983.56 318.05 986.51 334.64 989.12 351.45 991.96 368.49 995.33 385.75 997.96 403.24 1001.24 420.97 1004.44 438.93 1007.79 457.15 1011.03" class="sl"/>
<circle cx="158.84" cy="1235.44" r="4.49"/>
<circle cx="169.15" cy="1131.64" r="4.55"/>
<circle cx="178.67" cy="986.52" r="4.64"/>
<circle cx="192.8" cy="968.16" r="4.66"/>
<circle cx="207.78" cy="970.93" r="4.68"/>
<circle cx="222.87" cy="970.42" r="4.71"/>
<circle cx="238.24" cy="973.17" r="4.73"/>
<circle cx="253.8" cy="976" r="4.75"/>
<circle cx="269.56" cy="978.76" r="4.77"/>
<circle cx="285.51" cy="980.9" r="4.79"/>
<circle cx="301.67" cy="983.56" r="4.81"/>
<circle cx="318.05" cy="986.51" r="4.83"/>
<circle cx="334.64" cy="989.12" r="4.86"/>
<circle cx="351.45" cy="991.96" r="4.88"/>
<circle cx="368.49" cy="995.33" r="4.9"/>
<circle cx="385.75" cy="997.96" r="4.92"/>
<circle cx="403.24" cy="1001.24" r="4.95"/>
<circle cx="420.97" cy="1004.44" r="4.97"/>
<circle cx="438.93" cy="1007.79" r="4.99"/>
<circle cx="457.15" cy="1011.03" r="5.02"/>
<path d="M160.82 1290.44 171.9 1212.03 179.9 1024.36 193.41 988.21 208.36 991.03 223.16 981.4 238.4 979.89 253.86 978.4 269.59 980.46 285.54 982.51 301.7 984.96 318.08 988.01 334.66 990.62 351.47 993.46 368.5 996.83 385.75 999.46 403.24 1002.74 420.97 1005.94 438.93 1008.99 457.15 1012.03" class="sl"/>
<path d="M160.82 1284.48L165.63 1293.42L156.02 1293.42Z"/>
<path d="M171.9 1206L176.76 1215.04L167.03 1215.04Z"/>
<path d="M179.9 1018.2L184.87 1027.44L174.93 1027.44Z"/>
<path d="M193.41 982L198.41 991.31L188.4 991.31Z"/>
<path d="M208.36 984.79L213.39 994.15L203.33 994.15Z"/>
<path d="M223.16 975.14L228.22 984.54L218.11 984.54Z"/>
<path d="M238.4 973.6L243.48 983.04L233.32 983.04Z"/>
<path d="M253.86 972.08L258.96 981.57L248.75 981.57Z"/>
<path d="M269.59 974.11L274.72 983.64L264.47 983.64Z"/>
<path d="M285.54 976.12L290.69 985.7L280.39 985.7Z"/>
<path d="M301.7 978.55L306.87 988.17L296.52 988.17Z"/>
<path d="M318.08 981.57L323.27 991.24L312.88 991.24Z"/>
<path d="M334.66 984.15L339.88 993.86L329.44 993.86Z"/>
<path d="M351.47 986.96L356.71 996.71L346.22 996.71Z"/>
<path d="M368.5 990.3L373.77 1000.1L363.23 1000.1Z"/>
<path d="M385.75 992.89L391.05 1002.74L380.46 1002.74Z"/>
<path d="M403.24 996.15L408.56 1006.04L397.93 1006.04Z"/>
<path d="M420.97 999.32L426.31 1009.26L415.63 1009.26Z"/>
<path d="M438.93 1002.33L444.3 1012.32L433.56 1012.32Z"/>
<path d="M457.15 1005.34L462.54 1015.37L451.75 1015.37Z"/>
<path d="M162.83 1346.21 174.97 1301.85 182.04 1090.44 195.41 1053.86 211.72 1108.57 226.01 1088.2 240.82 1077.3 255.73 1060.59 270.96 1046.19 286.52 1034.7 302.39 1026.3 318.54 1019.61 335.07 1022.99 351.71 1016.3 368.63 1011.89 385.85 1014.6 403.28 1012.91 420.98 1015.76 438.93 1016.97 457.13 1018.53" class="sl"/>
<path d="M162.83 1352.14L167.61 1343.25L158.05 1343.25Z"/>
<path d="M174.97 1307.83L179.79 1298.86L170.15 1298.86Z"/>
<path d="M182.04 1096.56L186.98 1087.38L177.1 1087.38Z"/>
<path d="M195.41 1060.03L200.39 1050.77L190.43 1050.77Z"/>
<path d="M211.72 1114.74L216.7 1105.49L206.75 1105.49Z"/>
<path d="M226.01 1094.41L231.02 1085.1L221.01 1085.1Z"/>
<path d="M240.82 1083.55L245.85 1074.18L235.78 1074.18Z"/>
<path d="M255.73 1066.87L260.8 1057.44L250.66 1057.44Z"/>
<path d="M270.96 1052.51L276.06 1043.03L265.87 1043.03Z"/>
<path d="M286.52 1041.06L291.65 1031.53L281.39 1031.53Z"/>
<path d="M302.39 1032.69L307.54 1023.1L297.23 1023.1Z"/>
<path d="M318.54 1026.03L323.72 1016.39L313.36 1016.39Z"/>
<path d="M335.07 1029.45L340.27 1019.77L329.86 1019.77Z"/>
<path d="M351.71 1022.79L356.94 1013.06L346.47 1013.06Z"/>
<path d="M368.63 1018.41L373.89 1008.62L363.36 1008.62Z"/>
<path d="M385.85 1021.15L391.13 1011.32L380.56 1011.32Z"/>
<path d="M403.28 1019.5L408.6 1009.62L397.97 1009.62Z"/>
<path d="M420.98 1022.38L426.32 1012.45L415.65 1012.45Z"/>
<path d="M438.93 1023.62L444.29 1013.64L433.56 1013.64Z"/>
<path d="M457.13 1025.22L462.52 1015.19L451.73 1015.19Z"/>
<path d="M163.18 1355.83 175.61 1320.74 182.67 1110.02 196.2 1079.71 213.35 1165.54 227.59 1147.37 242.32 1137.98 257.13 1122.05 272.24 1107.44 287.62 1093.44 303.36 1084.03 319.34 1074.01 335.76 1077.93 352.24 1067.51 369.01 1058.46 386.14 1061.99 403.45 1056.03 421.06 1059.47 438.9 1057.74 457 1061.33" class="sl"/>
<path d="M163.18 1350.58L168.43 1355.83L163.18 1361.09L157.92 1355.83Z"/>
<path d="M175.61 1315.44L180.91 1320.74L175.61 1326.03L170.32 1320.74Z"/>
<path d="M182.67 1104.6L188.09 1110.02L182.67 1115.45L177.25 1110.02Z"/>
<path d="M196.2 1074.25L201.66 1079.71L196.2 1085.17L190.74 1079.71Z"/>
<path d="M213.35 1160.1L218.8 1165.54L213.35 1170.99L207.91 1165.54Z"/>
<path d="M227.59 1141.89L233.07 1147.37L227.59 1152.85L222.12 1147.37Z"/>
<path d="M242.32 1132.47L247.83 1137.98L242.32 1143.49L236.81 1137.98Z"/>
<path d="M257.13 1116.51L262.67 1122.05L257.13 1127.6L251.59 1122.05Z"/>
<path d="M272.24 1101.87L277.81 1107.44L272.24 1113.02L266.66 1107.44Z"/>
<path d="M287.62 1087.83L293.23 1093.44L287.62 1099.05L282.01 1093.44Z"/>
<path d="M303.36 1078.39L309 1084.03L303.36 1089.67L297.72 1084.03Z"/>
<path d="M319.34 1068.33L325.01 1074.01L319.34 1079.68L313.66 1074.01Z"/>
<path d="M335.76 1072.23L341.46 1077.93L335.76 1083.63L330.06 1077.93Z"/>
<path d="M352.24 1061.78L357.97 1067.51L352.24 1073.24L346.51 1067.51Z"/>
<path d="M369.01 1052.7L374.78 1058.46L369.01 1064.23L363.25 1058.46Z"/>
<path d="M386.14 1056.2L391.93 1061.99L386.14 1067.78L380.34 1061.99Z"/>
<path d="M403.45 1050.21L409.27 1056.03L403.45 1061.85L397.63 1056.03Z"/>
<path d="M421.06 1053.62L426.9 1059.47L421.06 1065.32L415.21 1059.47Z"/>
<path d="M438.9 1051.86L444.78 1057.74L438.9 1063.62L433.02 1057.74Z"/>
<path d="M457 1055.43L462.91 1061.33L457 1067.24L451.09 1061.33Z"/>
<path d="M163.43 1362.82 176 1332.07 183.07 1122.28 196.72 1096.78 214.4 1202.06 228.62 1185.88 243.33 1178.66 258.11 1164.83 273.18 1152.77 288.51 1140.4 304.16 1131.78 320.05 1122.74 336.37 1126.3 352.75 1116.28 369.42 1108.37 386.44 1112.47 403.65 1107.02 421.14 1109.71 438.87 1108.76 456.84 1113.14" class="sl"/>
<path d="M157.51 1362.82L166.39 1358.05L166.39 1367.59Z"/>
<path d="M170.04 1332.07L178.98 1327.26L178.98 1336.88Z"/>
<path d="M176.96 1122.28L186.12 1117.36L186.12 1127.21Z"/>
<path d="M190.57 1096.78L199.79 1091.82L199.79 1101.74Z"/>
<path d="M208.28 1202.06L217.46 1197.13L217.46 1206.99Z"/>
<path d="M222.47 1185.88L231.7 1180.92L231.7 1190.85Z"/>
<path d="M237.14 1178.66L246.42 1173.67L246.42 1183.65Z"/>
<path d="M251.88 1164.83L261.22 1159.81L261.22 1169.85Z"/>
<path d="M266.92 1152.77L276.31 1147.72L276.31 1157.81Z"/>
<path d="M282.21 1140.4L291.65 1135.32L291.65 1145.47Z"/>
<path d="M297.82 1131.78L307.32 1126.67L307.32 1136.88Z"/>
<path d="M313.69 1122.74L323.24 1117.6L323.24 1127.87Z"/>
<path d="M329.97 1126.3L339.56 1121.14L339.56 1131.45Z"/>
<path d="M346.32 1116.28L355.97 1111.09L355.97 1121.46Z"/>
<path d="M362.96 1108.37L372.66 1103.15L372.66 1113.59Z"/>
<path d="M379.95 1112.47L389.69 1107.23L389.69 1117.71Z"/>
<path d="M397.11 1107.02L406.91 1101.75L406.91 1112.29Z"/>
<path d="M414.57 1109.71L424.42 1104.41L424.42 1115Z"/>
<path d="M432.27 1108.76L442.17 1103.44L442.17 1114.08Z"/>
<path d="M450.21 1113.14L460.16 1107.8L460.16 1118.49Z"/>
</g>
<path d="M161.75 925.15L207.55 947.18" class="red" stroke-dasharray="4.30 11.21"/>
<path d="M210.8 952.2L223.26 1398" class="red" stroke-dasharray="4.30 11.47"/>
<path d="M221.95 1398.85L178.95 1378.03" class="red" stroke-dasharray="4.30 10.19"/>
<path d="M175.68 1373L160.45 926" class="red" stroke-dasharray="4.30 11.52"/>
<path d="M207.55 947.18Q210.7 948.7 210.8 952.2" class="red" style="stroke-linecap:butt"/>
<path d="M178.95 1378.03Q175.8 1376.5 175.68 1373" class="red" style="stroke-linecap:butt"/>
<g class="mk">
<line x1="577" y1="1191.4" x2="625" y2="1191.4" class="sl"/>
<rect x="595.98" y="1186.78" width="9.24" height="9.24"/>
<line x1="577" y1="1218.4" x2="625" y2="1218.4" class="sl"/>
<circle cx="600.6" cy="1218.4" r="5.44"/>
<line x1="577" y1="1245.4" x2="625" y2="1245.4" class="sl"/>
<path d="M600.6 1238.15L606.45 1249.02L594.75 1249.02Z"/>
<line x1="577" y1="1272.4" x2="625" y2="1272.4" class="sl"/>
<path d="M600.6 1279.65L606.45 1268.78L594.75 1268.78Z"/>
<line x1="577" y1="1299.4" x2="625" y2="1299.4" class="sl"/>
<path d="M600.6 1292.97L607.03 1299.4L600.6 1305.83L594.17 1299.4Z"/>
<line x1="577" y1="1326.4" x2="625" y2="1326.4" class="sl"/>
<path d="M593.35 1326.4L604.22 1320.55L604.22 1332.25Z"/>
</g>
<text x="636" y="1198.7" font-size="22.4" textLength="106.5" lengthAdjust="spacingAndGlyphs" class="t">Time point 1</text>
<text x="636" y="1225.7" font-size="22.4" textLength="106.5" lengthAdjust="spacingAndGlyphs" class="t">Time point 2</text>
<text x="636" y="1252.7" font-size="22.4" textLength="106.5" lengthAdjust="spacingAndGlyphs" class="t">Time point 3</text>
<text x="636" y="1279.7" font-size="22.4" textLength="106.5" lengthAdjust="spacingAndGlyphs" class="t">Time point 4</text>
<text x="636" y="1306.7" font-size="22.4" textLength="106.5" lengthAdjust="spacingAndGlyphs" class="t">Time point 5</text>
<text x="636" y="1333.7" font-size="22.4" textLength="106.5" lengthAdjust="spacingAndGlyphs" class="t">Time point 6</text>
<text transform="matrix(0.8569 -0.1505 0.0495 1.0989 77.60 966.51)" font-size="20" text-anchor="end" class="t">0.0E+0</text>
<text transform="matrix(0.8507 -0.1820 0.0495 1.0989 81.43 1051.56)" font-size="20" text-anchor="end" class="t">-1.0E-4</text>
<text transform="matrix(0.8437 -0.2123 0.0495 1.0989 85.18 1134.79)" font-size="20" text-anchor="end" class="t">-2.0E-4</text>
<text transform="matrix(0.8359 -0.2413 0.0495 1.0989 88.85 1216.27)" font-size="20" text-anchor="end" class="t">-3.0E-4</text>
<text transform="matrix(0.8274 -0.2689 0.0495 1.0989 92.44 1296.06)" font-size="20" text-anchor="end" class="t">-4.0E-4</text>
<text transform="matrix(0.8184 -0.2952 0.0495 1.0989 95.96 1374.20)" font-size="20" text-anchor="end" class="t">-5.0E-4</text>
<text transform="translate(28.2 1294) rotate(-91) scale(1.0 0.85)" font-size="27.1" textLength="176.5" lengthAdjust="spacingAndGlyphs" class="t">Strain increment</text>
<text x="505.3" y="1565" font-size="21" textLength="176" lengthAdjust="spacingAndGlyphs" class="t">With weak interlayer</text>
<text x="744.4" y="1436.6" font-size="21" textLength="202" lengthAdjust="spacingAndGlyphs" class="t">Without weak interlayer</text>
<text transform="matrix(0.8830 -0.3504 0.9351 0.3544 128.86 1436.50)" font-size="16" text-anchor="end" class="t">0</text>
<text transform="matrix(0.8768 -0.3657 0.9351 0.3544 184.59 1457.62)" font-size="16" text-anchor="end" class="t">2</text>
<text transform="matrix(0.8697 -0.3822 0.9351 0.3544 243.02 1479.76)" font-size="16" text-anchor="end" class="t">4</text>
<text transform="matrix(0.8616 -0.4001 0.9351 0.3544 304.37 1503.02)" font-size="16" text-anchor="end" class="t">6</text>
<text transform="matrix(0.8523 -0.4195 0.9351 0.3544 368.86 1527.46)" font-size="16" text-anchor="end" class="t">8</text>
<text transform="matrix(0.8416 -0.4407 0.9351 0.3544 436.73 1553.19)" font-size="16" text-anchor="end" class="t">10</text>
<text transform="matrix(0.9317 0.3631 -0.9110 0.4123 232.79 1507.40)" font-size="21" text-anchor="middle" class="t">Depth(cm)</text>
<text x="455.1" y="1673.3" font-size="38" textLength="43.8" lengthAdjust="spacingAndGlyphs" class="t">(b)</text>
</svg></body></html>
